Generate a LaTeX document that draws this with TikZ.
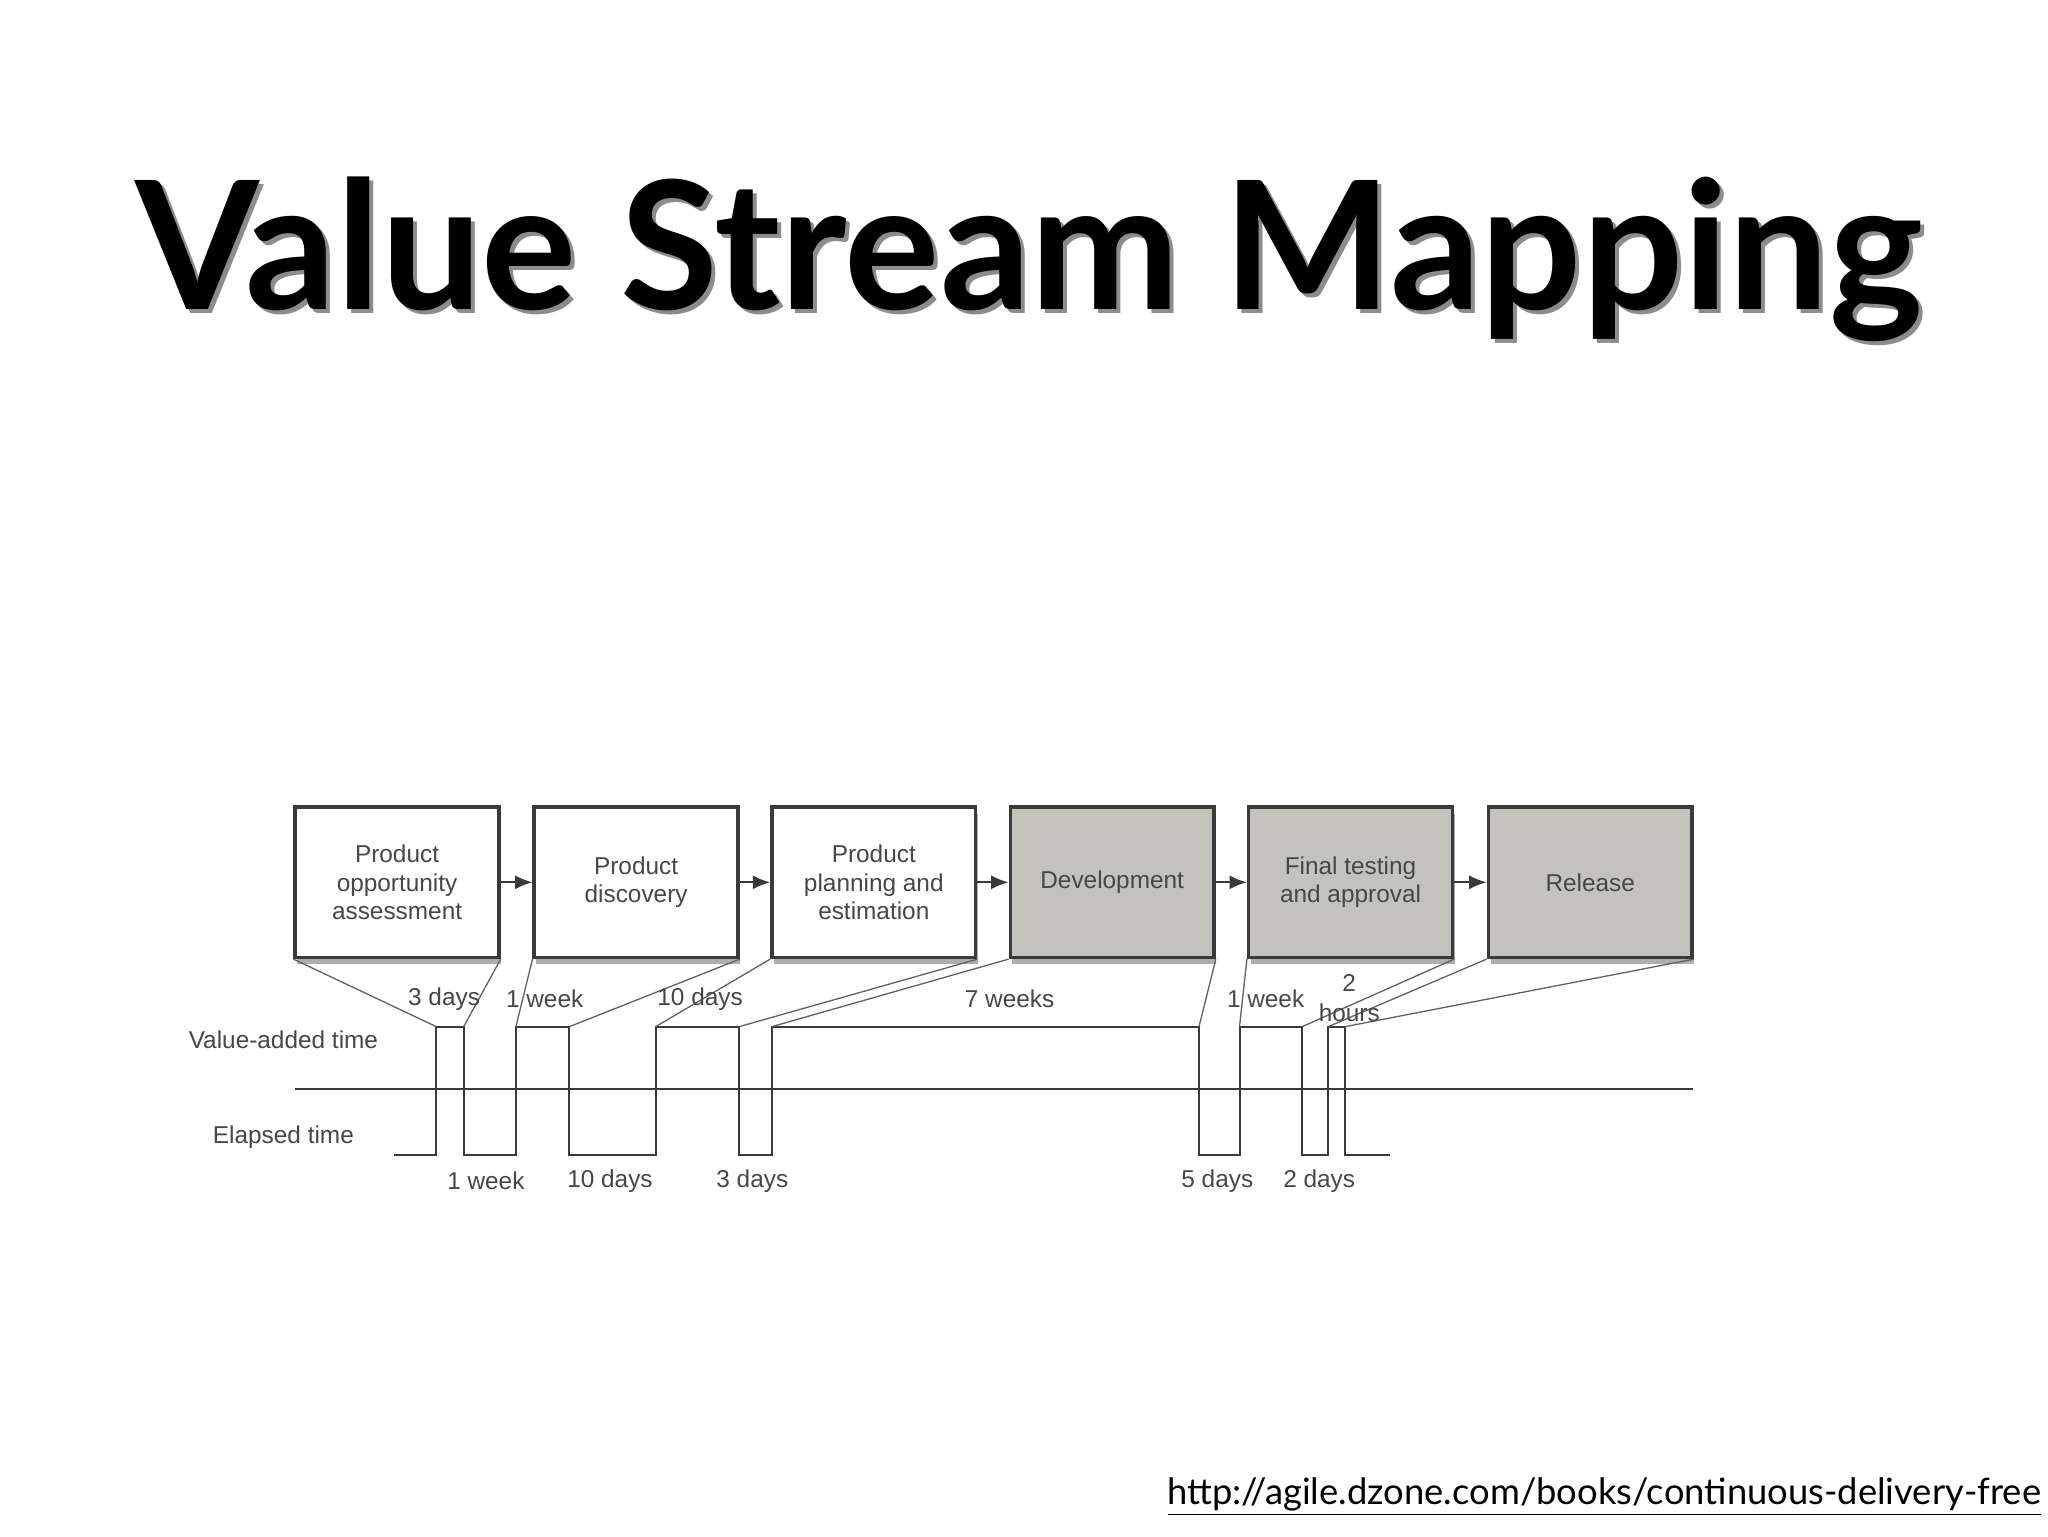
\documentclass[tikz,border=0pt]{standalone}
\usepackage{fontspec}
\setmainfont{Liberation Sans}
\newfontfamily\titlefont{Lato}
\usetikzlibrary{shadows,arrows.meta}
\definecolor{boxgray}{HTML}{C4C3BB}
\definecolor{ink}{HTML}{3A3A3A}
\definecolor{txt}{HTML}{474747}
\tikzset{
  stage/.style={draw=ink,line width=1.6pt,minimum width=93.6pt,minimum height=69pt,align=center,
    font=\fontsize{11.2}{13}\selectfont,text=txt,inner sep=1pt,
    drop shadow={shadow xshift=1pt,shadow yshift=-3pt,opacity=0.45,fill=black!70}},
  whitebox/.style={stage,fill=white},
  graybox/.style={stage,fill=boxgray},
  flow/.style={draw=ink,line width=1pt,-{Latex[length=8pt,width=6.5pt]}},
  wave/.style={draw=ink,line width=0.9pt},
  feed/.style={draw=ink!80,line width=0.6pt},
  lbl/.style={font=\fontsize{11.2}{12}\selectfont,text=txt,inner sep=0pt}
}
\begin{document}
\begin{tikzpicture}[x=0.6pt,y=-0.6pt]
\useasboundingbox (0,0) rectangle (1568,1176);
\fill[white] (0,0) rectangle (1568,1176);
% title
\node[text=black!45,font=\titlefont\bfseries\fontsize{82}{90}\selectfont,anchor=base] at (791,240) {Value Stream Mapping};
\node (title) [text=black,font=\titlefont\bfseries\fontsize{82}{90}\selectfont,anchor=base] at (788,237) {Value Stream Mapping};
% url
\node (url) [font=\titlefont\fontsize{16.7}{18}\selectfont,anchor=base east,inner sep=0pt] at (1563,1152) {\underline{http://agile.dzone.com/books/continuous-delivery-free}};
% boxes
\node[whitebox] (b1) at (304,675.5) {Product\\opportunity\\assessment};
\node[whitebox] (b2) at (487,675.5) {Product\\discovery};
\node[whitebox] (b3) at (669,675.5) {Product\\planning and\\estimation};
\node[graybox] (b4) at (851.5,675.5) {Development};
\node[graybox] (b5) at (1034,675.5) {Final testing\\and approval};
\node[graybox] (b6) at (1217.5,675.5) {Release};
\draw[flow] (b1) -- (b2);
\draw[flow] (b2) -- (b3);
\draw[flow] (b3) -- (b4);
\draw[flow] (b4) -- (b5);
\draw[flow] (b5) -- (b6);
% baseline
\coordinate (bl) at (226,834);
\coordinate (br) at (1296,834);
\draw[wave] (bl) -- (br);
% waveform coordinates
\coordinate (a1) at (334,786); \coordinate (a2) at (355,786);
\coordinate (c1) at (395,786); \coordinate (c2) at (436,786);
\coordinate (d1) at (502,786); \coordinate (d2) at (566,786);
\coordinate (e1) at (591,786); \coordinate (e2) at (918,786);
\coordinate (f1) at (949,786); \coordinate (f2) at (997,786);
\coordinate (g1) at (1017,786); \coordinate (g2) at (1030,786);
\draw[wave] (302,884) -| (a1) -- (a2) |- (c1 |- 0,884) -- (c1) -- (c2) |- (d1 |- 0,884) -- (d1) -- (d2)
  |- (e1 |- 0,884) -- (e1) -- (e2) |- (f1 |- 0,884) -- (f1) -- (f2) |- (g1 |- 0,884) -- (g1) -- (g2) |- (1064,884);
% feed lines
\draw[feed] (b1.south west) -- (a1); \draw[feed] (b1.south east) -- (a2);
\draw[feed] (b2.south west) -- (c1); \draw[feed] (b2.south east) -- (c2);
\draw[feed] (b3.south west) -- (d1); \draw[feed] (b3.south east) -- (d2);
\draw[feed] (b4.south west) -- (e1); \draw[feed] (b4.south east) -- (e2);
\draw[feed] (b5.south west) -- (f1); \draw[feed] (b5.south east) -- (f2);
\draw[feed] (b6.south west) -- (g1); \draw[feed] (b6.south east) -- (g2);
% labels
\node[lbl] (l1) at (340,765) {3 days};
\node[lbl] (l2) at (417,765) {1 week};
\node[lbl] (l3) at (536,765) {10 days};
\node[lbl] (l4) at (773,765) {7 weeks};
\node[lbl] (l5) at (969,765) {1 week};
\node[lbl,align=center,font=\fontsize{11.2}{14}\selectfont] (l6) at (1033,764) {2\\hours};
\node[lbl] (m1) at (372,904) {1 week};
\node[lbl] (m2) at (467,904) {10 days};
\node[lbl] (m3) at (576,904) {3 days};
\node[lbl] (m4) at (932,904) {5 days};
\node[lbl] (m5) at (1010,904) {2 days};
\node[lbl] (va) at (217,796) {Value-added time};
\node[lbl] (el) at (217,871) {Elapsed time};
\end{tikzpicture}
\end{document}
